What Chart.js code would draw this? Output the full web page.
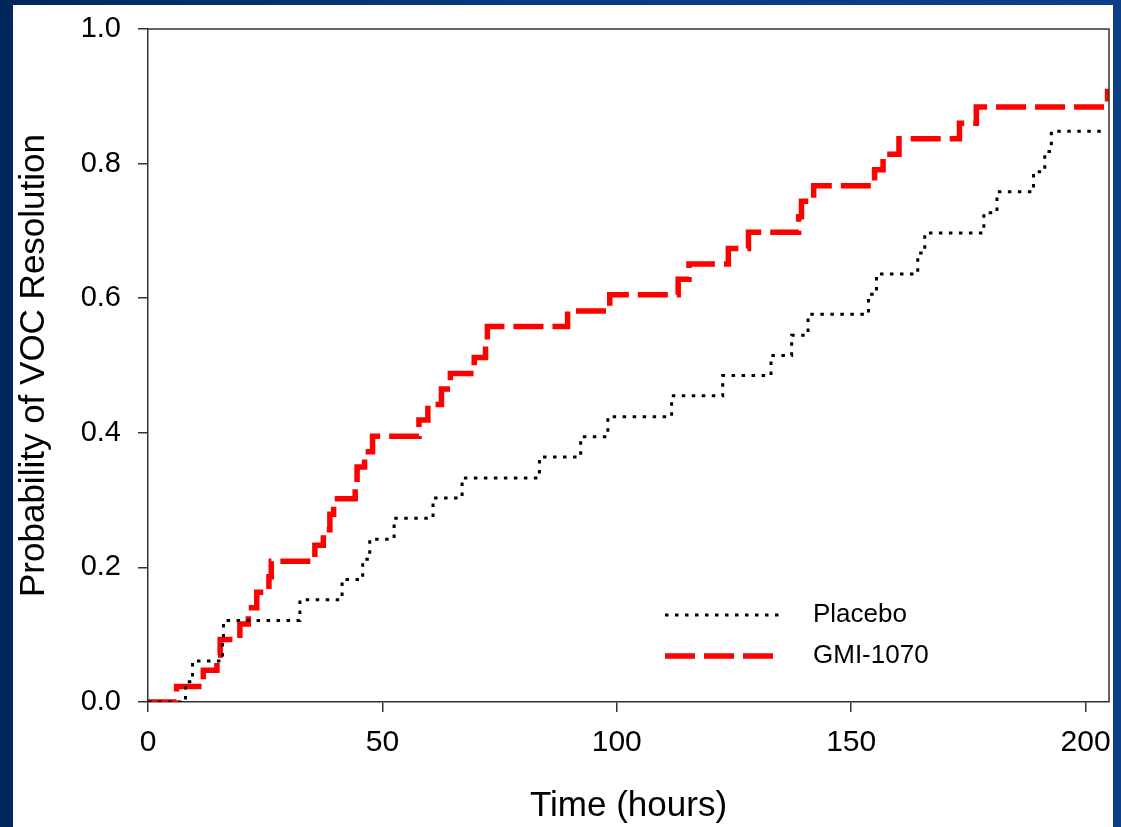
<!DOCTYPE html>
<html>
<head>
<meta charset="utf-8">
<script src="https://cdn.jsdelivr.net/npm/chart.js@4.4.1/dist/chart.umd.min.js"></script>
<style>
  html, body { margin: 0; padding: 0; }
  body {
    width: 1121px; height: 827px; overflow: hidden; position: relative;
    background: linear-gradient(90deg, #00275d 0%, #0b3c82 50%, #0d3f88 100%);
  }
  #wrap { position: absolute; left: 13px; top: 5px; width: 1100px; height: 822px; background: #fff; }
</style>
</head>
<body>
<div id="wrap"><canvas id="chart" width="1100" height="822"></canvas></div>
<script>
// Kaplan-Meier steps (time in hours, cumulative probability)
const placeboTimes = [0, 8.0, 9.5, 15.9, 16.1, 32.4, 41.4, 45.8, 47.3, 52.5, 60.8, 67.0, 83.5, 92.3, 98.1,
  111.7, 122.6, 132.9, 137.3, 140.8, 153.7, 155.4, 164.2, 165.7, 178.3, 181.1, 188.9, 191.3, 192.7, 204];
const placeboProb = [0, 0.030, 0.061, 0.091, 0.121, 0.152, 0.182, 0.212, 0.242, 0.273, 0.303, 0.333, 0.364, 0.394, 0.424,
  0.455, 0.485, 0.515, 0.545, 0.576, 0.606, 0.636, 0.667, 0.697, 0.727, 0.758, 0.788, 0.818, 0.848, 0.848];

const gmiTimes = [0, 6.1, 11.8, 14.7, 15.4, 19.6, 21.4, 23.2, 25.8, 26.3, 35.6, 37.4, 38.8, 39.6, 44.2, 44.6,
  46.2, 47.9, 57.8, 59.7, 62.6, 64.5, 69.6, 72.0, 72.4, 89.5, 98.5, 113.1, 115.4, 123.8, 128.1, 138.8, 139.4,
  142.0, 155.0, 156.8, 160.2, 173.1, 176.7, 204.7, 205];
const gmiProb = [0, 0.023, 0.047, 0.070, 0.093, 0.116, 0.140, 0.163, 0.186, 0.209, 0.233, 0.256, 0.279, 0.302, 0.326, 0.349,
  0.372, 0.395, 0.419, 0.442, 0.465, 0.488, 0.512, 0.535, 0.558, 0.581, 0.605, 0.628, 0.651, 0.674, 0.698, 0.721, 0.744,
  0.767, 0.791, 0.814, 0.837, 0.860, 0.884, 0.907, 0.907];

const xTicks = [0, 50, 100, 150, 200];
const yTicks = [0, 0.2, 0.4, 0.6, 0.8, 1.0];

const FONT = "'Liberation Sans', Arial, sans-serif";

function toPoints(times, probs) {
  return times.map((t, i) => ({ x: t, y: probs[i] }));
}

// top/right frame of the plot plus the legend inside the plot
const frameAndLegend = {
  id: 'frameAndLegend',
  afterDraw(chart) {
    const { ctx, chartArea: a } = chart;
    ctx.save();
    ctx.strokeStyle = '#333';
    ctx.lineWidth = 1.5;
    ctx.beginPath();
    ctx.moveTo(a.left, a.top);
    ctx.lineTo(a.right, a.top);
    ctx.lineTo(a.right, a.bottom);
    ctx.stroke();

    const rows = [610, 651];
    chart.data.datasets.forEach((ds, i) => {
      const y = rows[i];
      ctx.strokeStyle = ds.borderColor;
      ctx.lineWidth = ds.borderWidth;
      ctx.setLineDash(ds.borderDash);
      ctx.beginPath();
      ctx.moveTo(652, y);
      ctx.lineTo(i === 0 ? 768 : 762, y);
      ctx.stroke();
      ctx.setLineDash([]);
      ctx.fillStyle = '#000';
      ctx.font = '26px ' + FONT;
      ctx.textBaseline = 'middle';
      ctx.fillText(ds.label, 800, y);
    });
    ctx.restore();
  }
};

const ctx = document.getElementById('chart').getContext('2d');

new Chart(ctx, {
  type: 'line',
  data: {
    datasets: [{
      label: 'Placebo',
      data: toPoints(placeboTimes, placeboProb),
      borderColor: '#000',
      borderWidth: 3,
      borderDash: [3.5, 6.5],
      stepped: true,
      pointRadius: 0,
      fill: false
    },
    {
      label: 'GMI-1070',
      data: toPoints(gmiTimes, gmiProb),
      borderColor: '#ff0000',
      borderWidth: 5.5,
      borderDash: [30, 9],
      stepped: true,
      pointRadius: 0,
      fill: false
    }]
  },
  options: {
    responsive: false,
    animation: false,
    devicePixelRatio: 1,
    layout: { padding: { left: 0, top: 24, right: 4, bottom: 0 } },
    plugins: { legend: { display: false }, tooltip: { enabled: false } },
    scales: {
      x: {
        type: 'linear', min: 0, max: 205,
        afterBuildTicks: s => { s.ticks = xTicks.map(v => ({ value: v })); },
        afterFit: s => { s.height = 125; s.paddingLeft = 0; s.paddingRight = 0; },
        grid: { drawOnChartArea: false, tickLength: 10, color: '#333', lineWidth: 1.5 },
        border: { color: '#333', width: 1.5 },
        ticks: { font: { family: FONT, size: 30 }, color: '#000', padding: 13, maxRotation: 0 },
        title: { display: true, text: 'Time (hours)', color: '#000', font: { family: FONT, size: 35 }, padding: 0 }
      },
      y: {
        type: 'linear', min: 0, max: 1,
        afterBuildTicks: s => { s.ticks = yTicks.map(v => ({ value: v })); },
        afterFit: s => { s.width = 135; s.paddingTop = 0; s.paddingBottom = 0; },
        grid: { drawOnChartArea: false, tickLength: 10, color: '#333', lineWidth: 1.5 },
        border: { color: '#333', width: 1.5 },
        ticks: { font: { family: FONT, size: 29 }, color: '#000', padding: 17, callback: v => v.toFixed(1) },
        title: { display: true, text: 'Probability of VOC Resolution', color: '#000', font: { family: FONT, size: 35 }, padding: 0 }
      }
    }
  },
  plugins: [frameAndLegend]
});
</script>
</body>
</html>
